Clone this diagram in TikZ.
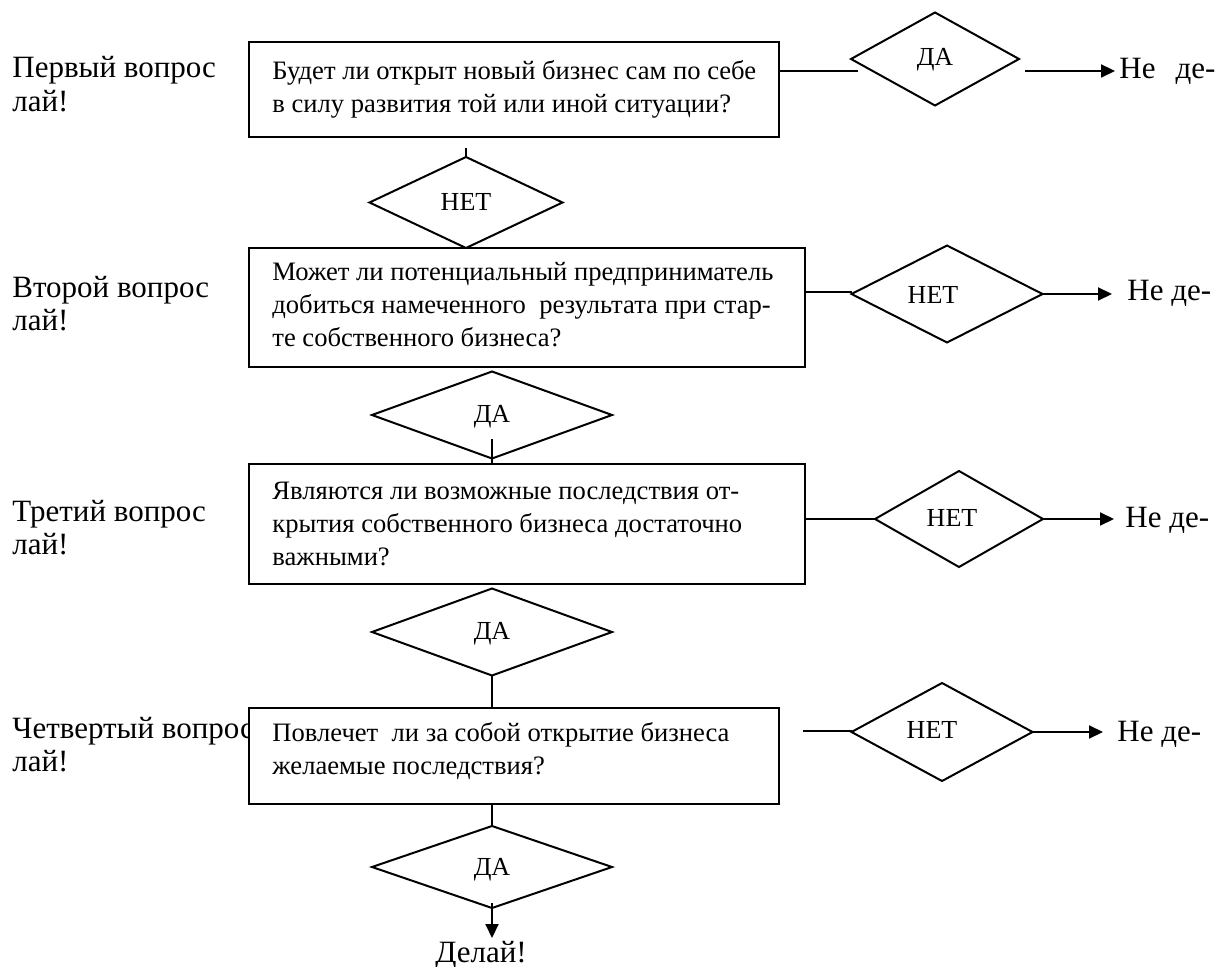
\documentclass[tikz,border=0pt]{standalone}
\usepackage{fontspec}
\setmainfont{Liberation Serif}
\usetikzlibrary{shapes.geometric,arrows.meta}

\tikzset{
  conn/.style={line width=1pt},
  arr/.style={line width=1pt,-{Triangle[length=7pt,width=6.5pt]}},
  qbox/.style={draw,line width=1pt,fill=white,rectangle,inner sep=0pt,outer sep=0pt},
  dmd/.style={draw,line width=1pt,fill=white,diamond,inner sep=0pt,outer sep=0pt},
  qtext/.style={font=\fontsize{13.3}{16.5}\selectfont,inner sep=0pt,anchor=base west},
  lbl/.style={font=\fontsize{15.5}{16.5}\selectfont,inner sep=0pt,anchor=base west},
  ans/.style={font=\fontsize{13}{15}\selectfont,inner sep=0pt},
}

\begin{document}
\begin{tikzpicture}[x=0.5pt,y=-0.5pt]
\path[use as bounding box] (0,0) rectangle (1229,967);

% question labels on the left
\node[lbl] (l1a) at (12,78)  {Первый вопрос};
\node[lbl] (l1b) at (12,112) {лай!};
\node[lbl] (l2a) at (12,298) {Второй вопрос};
\node[lbl] (l2b) at (12,331) {лай!};
\node[lbl] (l3a) at (12,521) {Третий вопрос};
\node[lbl] (l3b) at (12,554) {лай!};
\node[lbl] (l4a) at (12,738) {Четвертый вопрос};
\node[lbl] (l4b) at (12,771) {лай!};

% question boxes
\node[qbox,minimum width=265pt,minimum height=47.5pt] (box1) at (514,89.5) {};
\node[qbox,minimum width=278pt,minimum height=59.5pt] (box2) at (527,307.5) {};
\node[qbox,minimum width=278pt,minimum height=60pt]   (box3) at (527,524) {};
\node[qbox,minimum width=265pt,minimum height=48pt]   (box4) at (514,756) {};

% box texts
\node[qtext] (q1a) at (272,80)  {Будет ли открыт новый бизнес сам по себе};
\node[qtext] (q1b) at (272,113) {в силу развития той или иной ситуации?};
\node[qtext] (q2a) at (272,281) {Может ли потенциальный предприниматель};
\node[qtext] (q2b) at (272,314) {добиться намеченного\ \ результата при стар-};
\node[qtext] (q2c) at (272,347) {те собственного бизнеса?};
\node[qtext] (q3a) at (272,499) {Являются ли возможные последствия от-};
\node[qtext] (q3b) at (272,532) {крытия собственного бизнеса достаточно};
\node[qtext] (q3c) at (272,565) {важными?};
\node[qtext] (q4a) at (272,741) {Повлечет\ \ ли за собой открытие бизнеса};
\node[qtext] (q4b) at (272,774) {желаемые последствия?};

% decision diamonds
\node[dmd,minimum width=84pt,minimum height=46.5pt]   (d1) at (935,59) {};
\node[dmd,minimum width=96.5pt,minimum height=45.5pt] (n1) at (466,202.5) {};
\node[dmd,minimum width=95.5pt,minimum height=48.5pt] (n2) at (947,294) {};
\node[dmd,minimum width=120pt,minimum height=43.5pt]  (d2) at (492,415) {};
\node[dmd,minimum width=84pt,minimum height=48pt]     (n3) at (959,519) {};
\node[dmd,minimum width=120pt,minimum height=43.5pt]  (d3) at (492,632) {};
\node[dmd,minimum width=90.5pt,minimum height=49pt]   (n4) at (942,732) {};
\node[dmd,minimum width=120pt,minimum height=41pt]    (d4) at (492,867) {};

\node[ans] (d1t) at (935,60)  {ДА};
\node[ans] (n1t) at (466,202) {НЕТ};
\node[ans] (n2t) at (933,295) {НЕТ};
\node[ans] (d2t) at (492,417) {ДА};
\node[ans] (n3t) at (952,518) {НЕТ};
\node[ans] (d3t) at (492,634) {ДА};
\node[ans] (n4t) at (932,730) {НЕТ};
\node[ans] (d4t) at (492,870) {ДА};

% outcomes on the right
\node[lbl] (r1) at (1119,79)  {Не\hspace{0.65em}де-};
\node[lbl] (r2) at (1127,301) {Не де-};
\node[lbl] (r3) at (1125,527) {Не де-};
\node[lbl] (r4) at (1117,741) {Не де-};
\node[lbl,anchor=base] (go) at (481,962) {Делай!};

% free ends of the connectors
\coordinate (l1e) at (858,71);
\coordinate (a1s) at (1025,71);
\coordinate (a1e) at (1115,71);
\coordinate (l2e) at (852,292);
\coordinate (a2e) at (1112,292);
\coordinate (a3e) at (1114,519);
\coordinate (l4s) at (803,731);
\coordinate (a4e) at (1103,732);
\coordinate (t1)  at (466,148);
\coordinate (d2i) at (492,439);
\coordinate (d4i) at (492,903);
\coordinate (d4e) at (492,938);

% horizontal connectors
\draw[conn] (box1.east |- l1e) -- (l1e);
\draw[arr]  (a1s) -- (a1e);
\draw[conn] (box2.east |- l2e) -- (l2e);
\draw[arr]  (n2.east) -- (n2.east -| a2e);
\draw[conn] (box3.east |- n3.west) -- (n3.west);
\draw[arr]  (n3.east) -- (a3e);
\draw[conn] (l4s) -- (l4s -| n4.west);
\draw[arr]  (n4.east) -- (a4e);

% vertical connectors
\draw[conn] (t1) -- (n1.north);
\draw[conn] (d2i) -- (d2i |- box3.north);
\draw[conn] (d3.south) -- (d3.south |- box4.north);
\draw[conn] (d4.north |- box4.south) -- (d4.north);
\draw[arr]  (d4i) -- (d4e);
\end{tikzpicture}
\end{document}
